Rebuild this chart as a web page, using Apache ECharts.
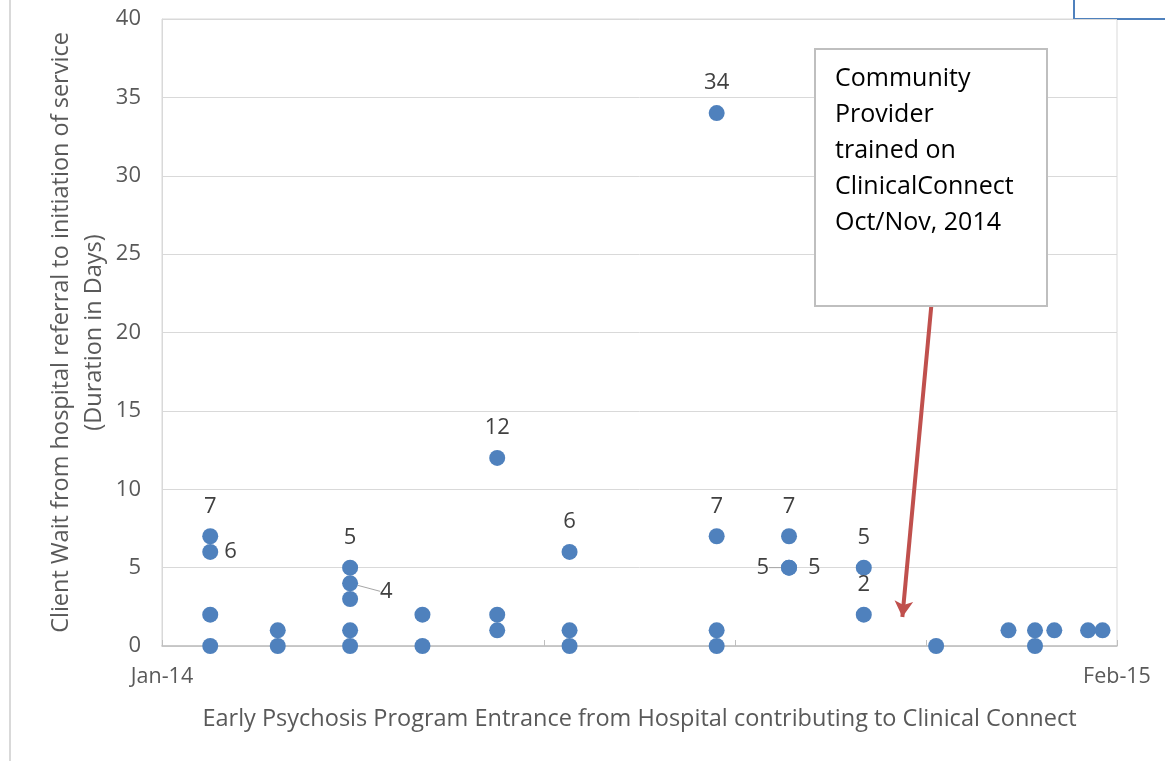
<!DOCTYPE html>
<html>
<head>
<meta charset="utf-8">
<script src="https://cdn.jsdelivr.net/npm/echarts@6/dist/echarts.min.js"></script>
<style>
html,body{margin:0;padding:0;background:#fff;}
#chart{width:1165px;height:761px;}
</style>
</head>
<body>
<div id="chart"></div>
<script>
// entrance dates and client wait (days), one entry per client
var entryDates = [
	'2014-01-21','2014-01-21','2014-01-21','2014-01-21',
	'2014-02-18','2014-02-18',
	'2014-03-20','2014-03-20','2014-03-20','2014-03-20','2014-03-20',
	'2014-04-19','2014-04-19',
	'2014-05-20','2014-05-20','2014-05-20',
	'2014-06-19','2014-06-19','2014-06-19',
	'2014-08-19','2014-08-19','2014-08-19','2014-08-19',
	'2014-09-18','2014-09-18','2014-09-18',
	'2014-10-19','2014-10-19',
	'2014-11-18',
	'2014-12-18',
	'2014-12-29','2014-12-29',
	'2015-01-06',
	'2015-01-20',
	'2015-01-26'
];
var waitDays = [
	7,6,2,0,
	1,0,
	5,4,3,1,0,
	2,0,
	12,2,1,
	6,1,0,
	34,7,1,0,
	7,5,5,
	5,2,
	0,
	1,
	1,0,
	1,
	1,
	1
];
// which points carry a value label, and where (style only)
var labelPos = [
	'top','right','','',
	'','',
	'top','right','','','',
	'','',
	'top','','',
	'top','','',
	'top','top','','',
	'top','left','right',
	'top','top',
	'',
	'',
	'','',
	'',
	'',
	''
];
var axisStart = '2014-01-01';
var axisEnd = '2015-02-01';
var tickLabels = ['Jan-14','Feb-15'];
var xTitle = 'Early Psychosis Program Entrance from Hospital contributing to Clinical Connect';
var yTitle = 'Client Wait from hospital referral to initiation of service\n(Duration in Days)';
var noteLines = ['Community','Provider','trained on','ClinicalConnect','Oct/Nov, 2014'];
// arrow from the note down to the Nov 2014 gap: [date, days]
var arrowFrom = ['2014-11-16', 21.7];
var arrowTo = ['2014-11-04', 1.85];

function dayOf(s){
	return (Date.parse(s+'T00:00:00Z')-Date.parse(axisStart+'T00:00:00Z'))/86400000;
}
var span = dayOf(axisEnd);
var font = 'Open Sans';
// labels nudged aside; the ones in 'leader' get a small leader line
var shifted = {7:{dx:16, dy:8}, 24:{dx:-6}, 25:{dx:5}};
var leader = {7:true, 24:true};

var pts = [];
for(var i=0;i<waitDays.length;i++)
{
	var item = {value:[dayOf(entryDates[i]), waitDays[i]]};
	if(labelPos[i])
	{
		item.label = {show:true, position:labelPos[i]};
		if(labelPos[i]=='top') item.label.distance = 11;
		if(leader[i]) item.labelLine = {show:true};
	}
	pts.push(item);
}

var myChart = echarts.init(document.getElementById('chart'));
var option = {
	backgroundColor:'#fff',
	animation:false,
	grid:{left:162, right:48, top:19, bottom:115, show:true, borderColor:'#D9D9D9', borderWidth:1},
	xAxis:{
		type:'value', min:0, max:span, interval:span/5,
		name:xTitle, nameLocation:'middle', nameGap:61, nameMoveOverlap:false,
		nameTextStyle:{fontFamily:font, fontSize:23.5, color:'#595959'},
		axisLine:{show:true, lineStyle:{color:'#BFBFBF', width:1.5}},
		axisTick:{show:true, inside:true, length:6, lineStyle:{color:'#BFBFBF'}},
		splitLine:{show:false},
		axisLabel:{
			fontFamily:font, fontSize:21.5, color:'#595959', margin:20, showMinLabel:true, showMaxLabel:true,
			formatter:function(v){
				if(Math.abs(v)<0.5) return tickLabels[0];
				if(Math.abs(v-span)<0.5) return tickLabels[1];
				return '';
			}
		}
	},
	yAxis:{
		type:'value', min:0, max:40, interval:5,
		name:yTitle, nameLocation:'middle', nameGap:51, nameMoveOverlap:false,
		nameTextStyle:{fontFamily:font, fontSize:23.5, color:'#595959', lineHeight:33},
		axisLine:{show:true, lineStyle:{color:'#D9D9D9'}},
		axisTick:{show:false},
		splitLine:{lineStyle:{color:'#D9D9D9', width:1}},
		axisLabel:{fontFamily:font, fontSize:22, color:'#595959', margin:21}
	},
	series:[
		{
			type:'scatter',
			symbolSize:16,
			itemStyle:{color:'#4F81BD', opacity:1},
			label:{fontFamily:font, fontSize:22, color:'#404040', distance:6, formatter:function(p){return p.value[1];}},
			labelLine:{show:false, lineStyle:{color:'#A6A6A6', width:1}},
			labelLayout:function(p){
				return shifted[p.dataIndex] || {};
			},
			data:pts,
			z:3
		},
		{
			type:'scatter',
			data:[],
			markLine:{
				silent:true,
				symbol:['none','arrow'],
				symbolSize:[14,16],
				label:{show:false},
				lineStyle:{color:'#C0504D', width:4, type:'solid'},
				data:[[{coord:[dayOf(arrowFrom[0]), arrowFrom[1]]},{coord:[dayOf(arrowTo[0]), arrowTo[1]]}]]
			}
		}
	],
	graphic:[
		{type:'line', shape:{x1:10, y1:0, x2:10, y2:761}, style:{stroke:'#D9D9D9', lineWidth:2}},
		{type:'rect', shape:{x:1074, y:-4, width:100, height:23}, style:{fill:'#fff', stroke:'#4F81BD', lineWidth:2}},
		{type:'rect', shape:{x:815, y:49, width:232, height:257}, style:{fill:'#fff', stroke:'#BFBFBF', lineWidth:2}, z:10},
		{type:'text', left:835, top:61, z:11,
			style:{text:noteLines.join('\n'), fontFamily:font, fontSize:25, lineHeight:36, fill:'#000'}}
	]
};
myChart.setOption(option);
</script>
</body>
</html>
